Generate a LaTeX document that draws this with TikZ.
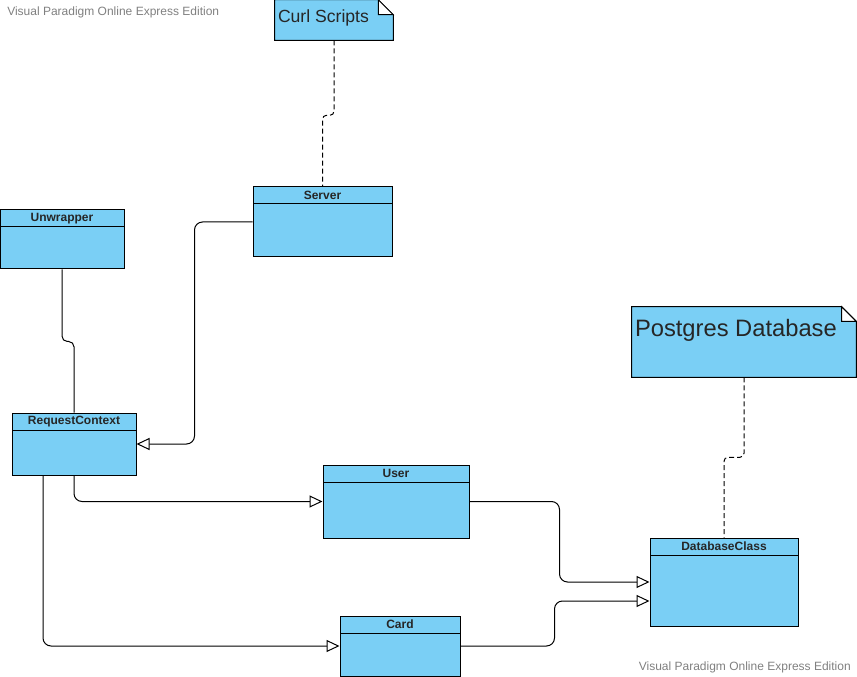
\documentclass[tikz,border=0pt]{standalone}
\usepackage{fontspec}
\setmainfont{Liberation Sans}
\usetikzlibrary{arrows.meta,backgrounds,positioning}
\definecolor{classblue}{RGB}{122,207,245}
\definecolor{marktext}{RGB}{128,128,128}
\tikzset{
    umlclass/.style={draw, fill=classblue, line width=0.75pt, inner sep=0pt,
        path picture = {
            \draw[line width=0.75pt]
            ([yshift=-12.75pt]path picture bounding box.north west) --
            ([yshift=-12.75pt]path picture bounding box.north east);
        }
    },
  classname/.style = {anchor=north, inner sep=0pt, minimum height=12.75pt, text=black!85, font=\fontsize{9}{10}\selectfont\bfseries},
  notenode/.style = {inner sep=0pt},
  notetext/.style = {anchor=north west, inner sep=0pt, text=black!85},
  notebody/.style = {draw, fill=classblue, line width=0.75pt},
  notefold/.style = {draw, fill=white, line width=0.75pt},
  watermark/.style = {inner sep=0pt, text=marktext, font=\fontsize{9}{10}\selectfont},
  inherit/.style = {draw, line width=0.75pt, rounded corners=6pt, -{Triangle[open, length=9.75pt, width=9pt]}},
  link/.style = {draw, line width=0.75pt, rounded corners=4pt},
  notelink/.style = {draw, line width=0.75pt, dash pattern=on 3.75pt off 2.25pt, rounded corners=3pt}
}
\begin{document}
\begin{tikzpicture}[x=0.75pt, y=-0.75pt]
    \useasboundingbox (0,0) rectangle (857,677);
    % watermarks
    \node [watermark, anchor=west] (mark1) at (7,12) {Visual Paradigm Online Express Edition};
    \node [watermark, anchor=east] (mark2) at (851,667) {Visual Paradigm Online Express Edition};
    % notes
    \node [notenode, minimum width=88.5pt, minimum height=30pt,
        label={[notetext, xshift=2.25pt, yshift=-7.5pt, font=\fontsize{13.2}{15}\selectfont]north west:Curl Scripts}] (curl) at (334,20) {};
    \node [notenode, minimum width=168pt, minimum height=52.5pt,
        label={[notetext, xshift=2.25pt, yshift=-9pt, font=\fontsize{17.8}{20}\selectfont]north west:Postgres Database}] (pg) at (744,342) {};
    \begin{pgfonlayer}{background}
        \draw [notebody] (curl.south west) -- (curl.north west) -- ([xshift=-11.25pt]curl.north east)
            -- ([yshift=-11.25pt]curl.north east) -- (curl.south east) -- cycle;
        \draw [notefold] ([xshift=-11.25pt]curl.north east) |- ([yshift=-11.25pt]curl.north east) -- cycle;
        \draw [notebody] (pg.south west) -- (pg.north west) -- ([xshift=-11pt]pg.north east)
            -- ([yshift=-11pt]pg.north east) -- (pg.south east) -- cycle;
        \draw [notefold] ([xshift=-11pt]pg.north east) |- ([yshift=-11pt]pg.north east) -- cycle;
    \end{pgfonlayer}
    % classes
    \node [umlclass, minimum width=104.25pt, minimum height=52.5pt, label={[classname]north:Server}] (server) at (322.5,222) {};
    \node [umlclass, minimum width=93pt, minimum height=44.25pt, label={[classname]north:Unwrapper}] (unw) at (62,239.5) {};
    \node [umlclass, minimum width=93pt, minimum height=46.5pt, label={[classname]north:RequestContext}] (rc) at (74,444) {};
    \node [umlclass, minimum width=109.5pt, minimum height=54.75pt, label={[classname]north:User}] (user) at (396,501.5) {};
    \node [umlclass, minimum width=111pt, minimum height=66pt, label={[classname]north:DatabaseClass}] (db) at (724,582) {};
    \node [umlclass, minimum width=90pt, minimum height=45pt, label={[classname]north:Card}] (card) at (400,646) {};
    % connectors
    \draw [notelink] (curl.south) -- ++(0,75) -| (server.north);
    \draw [notelink] (pg.south) -- ++(0,80) -| (db.north);
    \draw [inherit] (server.west) -- ++(-58,0) |- (rc.east);
    \draw [link] (unw.south) -- ++(0,72) -| (rc.north);
    \draw [inherit] (rc.south) |- (user.west);
    \draw [inherit] ([xshift=-23.25pt]rc.south) |- (card.west);
    \draw [inherit] (user.east) -- ++(90,0) |- (db.west);
    \draw [inherit] (card.east) -- ++(94,0) |- ([yshift=-14.25pt]db.west);
\end{tikzpicture}
\end{document}
